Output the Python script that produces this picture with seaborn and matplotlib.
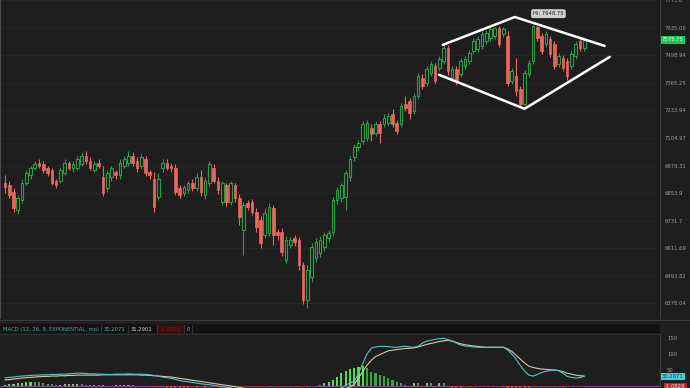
import matplotlib
matplotlib.use("Agg")
import matplotlib.pyplot as plt
import matplotlib.transforms as mtransforms
from matplotlib.patches import Rectangle
from matplotlib.lines import Line2D
from matplotlib.ticker import NullLocator
import seaborn as sns
import numpy as np
import pandas as pd

# ---------------- data ----------------
opens = [6901, 6888, 6857, 6777, 6821, 6901, 6933, 6965, 6992, 6987,
         6965, 6956, 6910, 6910, 6942, 6992, 6965, 6969, 6987, 7024,
         7001, 6956, 6992, 6924, 6875, 6924, 6947, 6933, 6978, 6992,
         7024, 7001, 6978, 7010, 6947, 6919, 6834, 6965, 6992, 6978,
         6969, 6875, 6852, 6866, 6901, 6875, 6924, 6843, 6897, 6969,
         6910, 6812, 6888, 6812, 6888, 6830, 6689, 6808, 6812, 6768,
         6733, 6667, 6676, 6786, 6680, 6680, 6559, 6624, 6654, 6645,
         6538, 6391, 6487, 6568, 6589, 6615, 6654, 6680, 6821, 6830,
         6834, 6924, 7015, 7061, 7093, 7107, 7153, 7130, 7172, 7172,
         7177, 7219, 7177, 7172, 7266, 7280, 7233, 7304, 7390, 7366,
         7414, 7448, 7438, 7473, 7536, 7390, 7433, 7410, 7448, 7473,
         7521, 7531, 7546, 7571, 7586, 7595, 7635, 7605, 7595, 7376,
         7400, 7338, 7266, 7410, 7473, 7640, 7595, 7556, 7581, 7556,
         7458, 7487, 7473, 7448, 7497, 7571, 7536]
closes = [6879, 6843, 6786, 6830, 6901, 6942, 6965, 6987, 6978, 6956,
          6942, 6897, 6888, 6956, 6992, 6969, 6987, 7010, 7024, 7001,
          6969, 6987, 6978, 6852, 6942, 6965, 6933, 6992, 7010, 7024,
          6992, 6965, 7015, 6942, 6933, 6790, 6919, 6992, 6969, 6965,
          6857, 6843, 6879, 6897, 6875, 6924, 6857, 6910, 6987, 6910,
          6866, 6897, 6812, 6897, 6830, 6746, 6799, 6790, 6768, 6702,
          6632, 6764, 6790, 6667, 6667, 6594, 6645, 6645, 6637, 6538,
          6391, 6517, 6615, 6637, 6645, 6667, 6676, 6821, 6866, 6888,
          6942, 7010, 7061, 7084, 7172, 7177, 7125, 7172, 7130, 7200,
          7210, 7172, 7139, 7257, 7247, 7224, 7304, 7400, 7352, 7433,
          7458, 7376, 7482, 7536, 7424, 7433, 7376, 7473, 7482, 7511,
          7571, 7581, 7605, 7610, 7630, 7635, 7556, 7630, 7366, 7424,
          7328, 7266, 7414, 7463, 7645, 7586, 7521, 7605, 7507, 7448,
          7497, 7438, 7400, 7507, 7556, 7536, 7575.75]
highs = [6933, 6910, 6875, 6843, 6919, 6956, 6978, 7001, 7006, 7001,
         6978, 6969, 6919, 6969, 7006, 7001, 7001, 7024, 7038, 7047,
         7015, 7001, 7006, 6978, 6956, 6978, 6956, 7006, 7024, 7047,
         7038, 7015, 7029, 7024, 6960, 6947, 6942, 7006, 7010, 6992,
         6983, 6888, 6892, 6910, 6915, 6942, 6956, 6928, 7001, 6987,
         6928, 6910, 6901, 6910, 6901, 6848, 6812, 6821, 6825, 6786,
         6751, 6786, 6808, 6799, 6693, 6698, 6663, 6658, 6667, 6658,
         6551, 6538, 6632, 6654, 6663, 6680, 6689, 6834, 6879, 6901,
         6956, 7024, 7075, 7098, 7186, 7191, 7168, 7186, 7186, 7219,
         7224, 7243, 7191, 7271, 7304, 7295, 7318, 7414, 7410, 7448,
         7473, 7463, 7497, 7551, 7551, 7448, 7448, 7487, 7497, 7526,
         7586, 7595, 7620, 7625, 7640, 7642, 7644, 7640, 7620, 7438,
         7487, 7352, 7429, 7478, 7648.75, 7645, 7610, 7620, 7595, 7571,
         7511, 7502, 7487, 7521, 7571, 7586, 7586]
lows = [6852, 6830, 6768, 6760, 6808, 6888, 6919, 6956, 6969, 6942,
        6929, 6888, 6875, 6897, 6933, 6956, 6947, 6956, 6974, 6987,
        6956, 6947, 6965, 6839, 6857, 6910, 6919, 6919, 6965, 6978,
        6978, 6951, 6965, 6929, 6915, 6768, 6821, 6947, 6956, 6951,
        6843, 6830, 6839, 6852, 6861, 6861, 6839, 6825, 6884, 6897,
        6848, 6799, 6795, 6799, 6812, 6711, 6581, 6777, 6755, 6680,
        6611, 6654, 6663, 6624, 6645, 6577, 6547, 6611, 6620, 6517,
        6374, 6357, 6466, 6551, 6572, 6598, 6637, 6663, 6803, 6812,
        6777, 6910, 7001, 7047, 7079, 7093, 7093, 7116, 7084, 7158,
        7163, 7158, 7125, 7158, 7233, 7196, 7219, 7290, 7338, 7352,
        7400, 7362, 7424, 7458, 7405, 7376, 7357, 7395, 7433, 7458,
        7507, 7516, 7531, 7556, 7571, 7581, 7541, 7591, 7352, 7362,
        7304, 7247, 7257, 7395, 7458, 7571, 7507, 7541, 7492, 7433,
        7443, 7424, 7381, 7433, 7482, 7521, 7521]

macd = [25, 27, 28, 30, 31, 32, 33, 34, 34, 35,
        35, 36, 36, 37, 37, 38, 39, 40, 40, 39,
        38, 38, 37, 37, 36, 36, 37, 37, 37, 38,
        37, 37, 37, 36, 35, 33, 31, 28, 26, 24,
        21, 17, 15, 13, 11, 9, 7, 5, 4, 2,
        0, -2, -4, -6, -9, -12, -15, -18, -21, -24,
        -27, -29, -31, -33, -35, -38, -40, -42, -44, -46,
        -50, -48, -44, -40, -35, -30, -25, -18, -12, -6,
        2, 10, 14, 40, 70, 100, 118, 122, 124, 124,
        123, 121, 121, 123, 124, 122, 121, 124, 134, 140,
        143, 146, 148, 149, 145, 141, 134, 128, 125, 124,
        122, 121, 121, 121, 121, 121, 121, 121, 113, 100,
        84, 64, 47, 34, 31, 36, 42, 46, 48, 50,
        48, 40, 30, 27, 25, 26, 30.2071]
signal = [19, 20, 22, 23, 25, 26, 27, 28, 29, 30,
          30, 31, 31, 32, 32, 33, 33, 34, 34, 34,
          34, 34, 34, 35, 35, 35, 35, 35, 35, 35,
          35, 35, 34, 34, 33, 32, 31, 30, 29, 28,
          26, 24, 22, 20, 18, 16, 14, 12, 10, 8,
          6, 4, 2, 0, -2, -4, -7, -10, -13, -16,
          -19, -22, -25, -27, -29, -31, -33, -35, -37, -39,
          -41, -42, -43, -42, -40, -37, -33, -28, -22, -15,
          -8, -3, 5, 25, 45, 65, 80, 92, 98, 104,
          110, 112, 114, 116, 117, 118, 119, 122, 126, 130,
          133, 136, 139, 141, 143, 140, 136, 132, 129, 127,
          125, 124, 122, 121, 121, 121, 121, 121, 116, 108,
          96, 84, 72, 62, 58, 55, 53, 52, 51, 50,
          48, 45, 40, 37, 34, 32, 31.2901]
hist = [4, 5, 6, 8, 10, 12, 14, 13, 11, 8,
        6, 5, 4, 4, 5, 5, 6, 7, 5, 4,
        3, 3, 2, 2, 1, 1, 2, 2, 3, 3,
        2, 1, 1, 0, -1, -2, -3, -4, -5, -6,
        -7, -8, -9, -10, -10, -11, -11, -12, -12, -12,
        -12, -12, -12, -12, -12, -12, -11, -11, -11, -11,
        -10, -10, -9, -9, -8, -8, -7, -7, -7, -7,
        -6, -5, -3, -1, 2, 9, 12, 19, 28, 40,
        47, 53, 56, 59, 62, 56, 43, 40, 34, 31,
        25, 19, 12, 9, 3, -2, 9, 8, -2, 9,
        8, -2, 9, 8, -3, -6, -8, -10, -8, -6,
        -5, -4, -3, -3, -2, -2, -2, -3, -5, -8,
        -12, -15, -18, -20, -18, -15, -12, -10, -8, -6,
        -5, -5, -4, -3, -2, -2, -1.0829]

price_ticks = [6378.04, 6493.82, 6611.69, 6731.7, 6853.9, 6978.31,
               7104.97, 7233.94, 7365.25, 7498.94, 7635.06, 7773.6]
price_tick_labels = ["6378.04", "6493.82", "6611.69", "6731.7", "6853.9", "6978.31",
                     "7104.97", "7233.94", "7365.25", "7498.94", "7635.06", "7773.6"]
macd_ticks = [50, 100, 150]
macd_tick_labels = ["50", "100", "150"]

# diamond (trend-line anchors: candle index, price)
diamond_top_x = [102.8, 119.7, 140.8]
diamond_top_y = [7551, 7690, 7546]
diamond_bot_x = [101.9, 122.0, 142.0]
diamond_bot_y = [7405, 7242, 7492]

hi_index = 124
hi_value = 7648.75
last_price = 7575.75

# ---------------- style ----------------
BG = "#1e1e1e"
RED = "#e8675f"
GREEN = "#2f9c45"
GRID = "#272727"
LABEL = "#9c9c9c"

sns.set_theme(style="dark", rc={"axes.facecolor": BG, "figure.facecolor": BG,
                                "savefig.facecolor": BG})
plt.rcParams["font.family"] = ["DejaVu Sans"]

W, H = 690, 388
fig = plt.figure(figsize=(6.9, 3.88), dpi=100)
fig.patch.set_facecolor(BG)


def fx(px):
    return px / W


def fy(py):
    return 1 - py / H


ax = fig.add_axes([0, fy(318), fx(660), 318 / H])
axm = fig.add_axes([0, 0, fx(660), 54 / H])

df = pd.DataFrame({"open": opens, "close": closes, "high": highs, "low": lows})
df["idx"] = np.arange(len(df))
up = df[df["close"] >= df["open"]]
dn = df[df["close"] < df["open"]]

# wicks
ax.vlines(up["idx"], up["low"], up["high"], colors=GREEN, lw=0.8, zorder=2)
ax.vlines(dn["idx"], dn["low"], dn["high"], colors=RED, lw=0.8, zorder=2)
# bodies
ax.bar(up["idx"], up["close"] - up["open"], bottom=up["open"], width=0.62,
       facecolor=BG, edgecolor=GREEN, linewidth=0.8, zorder=3)
ax.bar(dn["idx"], dn["open"] - dn["close"], bottom=dn["close"], width=0.62,
       facecolor=RED, edgecolor=RED, linewidth=0.5, zorder=3)

ax.set_yscale("log")
ax.set_ylim(6316, 7776)
ax.set_xlim(-1.17, 153.8)
ax.yaxis.set_minor_locator(NullLocator())
ax.set_yticks(price_ticks, labels=price_tick_labels)
ax.yaxis.set_minor_locator(NullLocator())
ax.yaxis.tick_right()
ax.tick_params(axis="y", length=0, pad=3, labelsize=3.8, labelcolor=LABEL)
ax.set_xticks([])
ax.grid(axis="y", color=GRID, lw=0.6)
ax.grid(axis="x", visible=False)
for s in ["top", "bottom"]:
    ax.spines[s].set_visible(False)
ax.spines["left"].set_color("#4a4a4a")
ax.spines["left"].set_linewidth(0.8)
ax.spines["right"].set_color("#3e3e3e")
ax.spines["right"].set_linewidth(0.8)

# diamond pattern
ax.plot(diamond_top_x, diamond_top_y, color="white", lw=1.8, solid_capstyle="round", zorder=5)
ax.plot(diamond_bot_x, diamond_bot_y, color="white", lw=1.8, solid_capstyle="round", zorder=5)

# Hi label
ax.annotate(f"Hi: {hi_value}", xy=(hi_index, hi_value), xytext=(0, 9),
            textcoords="offset pixels", ha="left", va="bottom", fontsize=3.8,
            color="#202020",
            bbox=dict(boxstyle="round,pad=0.3", fc="#cfcfcf", ec="#eeeeee", lw=0.4),
            zorder=6)

# last price tag
trans = mtransforms.blended_transform_factory(ax.transAxes, ax.transData)
ax.text(1.0 + 2 / 660, last_price, f"{last_price:.2f}", transform=trans, ha="left",
        va="center", fontsize=3.8, color="#e6ffe6",
        bbox=dict(boxstyle="square,pad=0.25", fc="#22c55a", ec="none"), zorder=6,
        clip_on=False)

# ---------------- MACD panel ----------------
idx = np.arange(len(macd))
hist_arr = np.array(hist, dtype=float)
prev = np.concatenate([[hist_arr[0]], hist_arr[:-1]])
hcolors = []
for h, p in zip(hist_arr, prev):
    if h >= 0:
        hcolors.append("#4fe04a" if h >= p else "#34a83a")
    else:
        hcolors.append("#e23a3a" if h < p else "#8e2020")
axm.axhline(0, color="#8a3d9a", lw=0.8, zorder=1)
axm.bar(idx, hist_arr, width=0.5, color=hcolors, linewidth=0, zorder=2)
sns.lineplot(x=idx, y=signal, ax=axm, color="#d8c8a2", lw=0.8, legend=False, zorder=3)
sns.lineplot(x=idx, y=macd, ax=axm, color="#52c4cc", lw=0.8, legend=False, zorder=4)

axm.set_xlim(-1.17, 153.8)
axm.set_ylim(-6.25, 162.5)
axm.set_yticks(macd_ticks, labels=macd_tick_labels)
axm.yaxis.tick_right()
axm.tick_params(axis="y", length=0, pad=5, labelsize=3.8, labelcolor=LABEL)
axm.set_xticks([])
axm.set_xlabel("")
axm.set_ylabel("")
axm.grid(False)
for s in ["top", "bottom", "left"]:
    axm.spines[s].set_visible(False)
axm.spines["right"].set_color("#3e3e3e")
axm.spines["right"].set_linewidth(0.8)

transm = mtransforms.blended_transform_factory(axm.transAxes, axm.transData)
axm.text(1.0 + 2 / 660, macd[-1], f"{macd[-1]:.4f}", transform=transm, ha="left",
         va="center", fontsize=3.8, color="#103c44",
         bbox=dict(boxstyle="square,pad=0.25", fc="#3fd0e0", ec="none"), clip_on=False)
axm.text(1.0 + 5 / 660, hist[-1], f"{hist[-1]:.4f}", transform=transm, ha="left",
         va="center", fontsize=3.8, color="#ffd6d6",
         bbox=dict(boxstyle="square,pad=0.25", fc="#b8282c", ec="none"), clip_on=False)

# ---------------- header strip ----------------
fig.add_artist(Line2D([0, 1], [fy(320), fy(320)], transform=fig.transFigure,
                      color="#3c3c3c", lw=0.8))
fig.add_artist(Rectangle((0, fy(333)), fx(660), 9 / H, transform=fig.transFigure,
                         fc="#121212", ec="none"))
fig.add_artist(Line2D([0, fx(660)], [fy(334), fy(334)], transform=fig.transFigure,
                      color="#333333", lw=0.6))
fig.add_artist(Rectangle((fx(158), fy(333)), fx(26), 8 / H, transform=fig.transFigure,
                         fc="#3a0e0e", ec="none"))
for xd in [101, 128, 157, 184, 192]:
    fig.add_artist(Line2D([fx(xd), fx(xd)], [fy(333), fy(325)], transform=fig.transFigure,
                          color="#3a3a3a", lw=0.6))
hy = fy(329.2)
fig.text(fx(3), hy, "MACD (12, 26, 9, EXPONENTIAL, mo)", color="#46a7ad", fontsize=3.8,
         va="center", ha="left")
fig.text(fx(104), hy, f"{macd[-1]:.4f}", color="#4cbcc4", fontsize=3.8, va="center")
fig.text(fx(131), hy, f"{signal[-1]:.4f}", color="#d8d0b8", fontsize=3.8, va="center")
fig.text(fx(161), hy, f"{hist[-1]:.4f}", color="#7a1c1c", fontsize=3.8, va="center")
fig.text(fx(187), hy, "0", color="#9a9a9a", fontsize=3.8, va="center")

fig.savefig("out.png", dpi=100, facecolor=BG)
